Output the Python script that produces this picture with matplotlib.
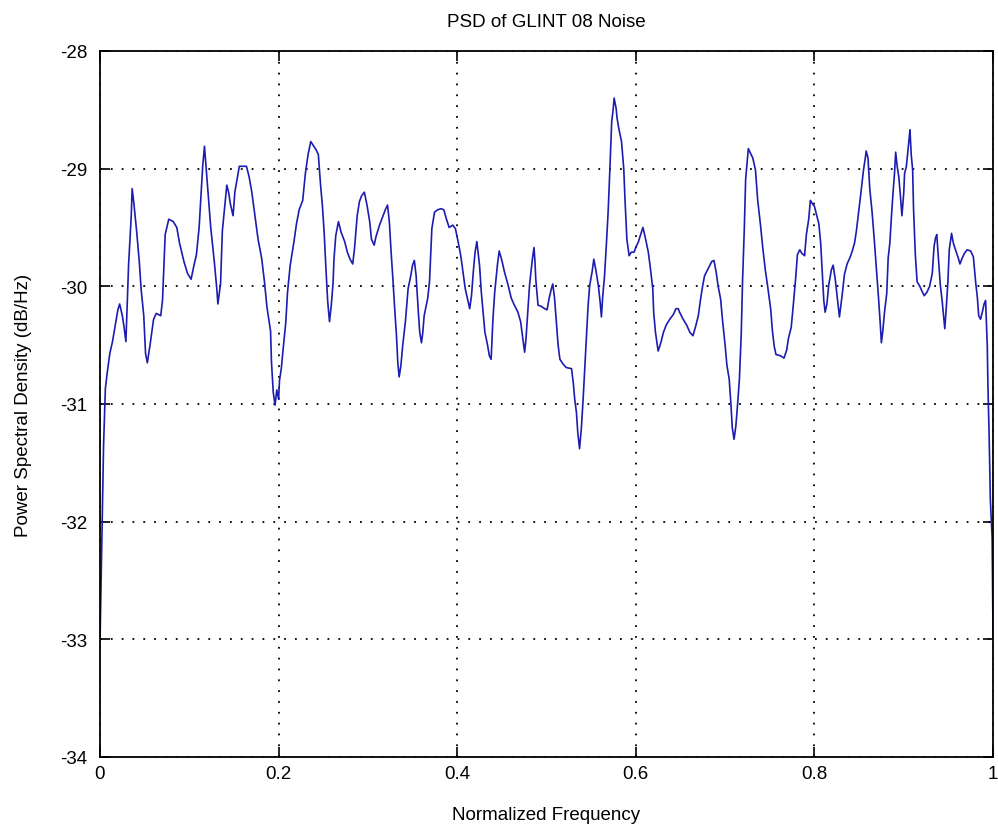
import matplotlib
matplotlib.use("Agg")
import matplotlib.pyplot as plt

freq = [
    0.000, 0.002, 0.004, 0.006, 0.008, 0.011, 0.014, 0.016, 0.020, 0.022,
    0.025, 0.027, 0.029, 0.030, 0.032, 0.035, 0.036, 0.038, 0.041, 0.044,
    0.046, 0.049, 0.051, 0.053, 0.056, 0.060, 0.063, 0.068, 0.070, 0.073,
    0.077, 0.082, 0.086, 0.089, 0.094, 0.098, 0.102, 0.105, 0.108, 0.111,
    0.113, 0.115, 0.117, 0.118, 0.120, 0.124, 0.128, 0.131, 0.132, 0.135,
    0.137, 0.140, 0.142, 0.144, 0.146, 0.149, 0.151, 0.154, 0.156, 0.164,
    0.167, 0.170, 0.173, 0.177, 0.181, 0.184, 0.187, 0.191, 0.192, 0.194,
    0.196, 0.198, 0.200, 0.201, 0.203, 0.205, 0.208, 0.210, 0.213, 0.217,
    0.220, 0.223, 0.227, 0.230, 0.233, 0.236,
    0.242, 0.2445, 0.247, 0.249, 0.251, 0.253, 0.255, 0.257, 0.259, 0.261,
    0.262, 0.264, 0.267, 0.270, 0.274, 0.277, 0.280, 0.283, 0.285, 0.288,
    0.2905, 0.293, 0.296, 0.299, 0.302, 0.304, 0.307, 0.309, 0.313, 0.317,
    0.320, 0.322, 0.324, 0.326, 0.328, 0.330, 0.332, 0.3335, 0.335, 0.337,
    0.339, 0.342, 0.345, 0.348, 0.350, 0.352, 0.354, 0.356, 0.358, 0.360,
    0.3615, 0.363, 0.367, 0.369, 0.3716, 0.3746, 0.378, 0.382, 0.385, 0.388,
    0.391, 0.395, 0.398, 0.401, 0.404, 0.406, 0.409, 0.412, 0.414, 0.416,
    0.418, 0.420, 0.422, 0.425, 0.427, 0.429, 0.431, 0.434, 0.436, 0.438,
    0.440, 0.442, 0.445, 0.447, 0.450, 0.453, 0.457, 0.4605, 0.464, 0.468,
    0.471, 0.4736, 0.4755, 0.477, 0.479, 0.481, 0.484, 0.486,
    0.487, 0.488, 0.4905, 0.494, 0.498, 0.5006, 0.503, 0.5055, 0.507, 0.509,
    0.511, 0.513, 0.515, 0.5185, 0.522, 0.528, 0.530, 0.5316, 0.5335, 0.535,
    0.537, 0.539, 0.541, 0.543, 0.545, 0.5466, 0.5484, 0.551, 0.553, 0.555,
    0.558, 0.560, 0.5615, 0.563, 0.565, 0.567, 0.569, 0.571, 0.573, 0.5746,
    0.5757, 0.578, 0.579, 0.581, 0.584, 0.5865, 0.588, 0.590, 0.5925, 0.595,
    0.598, 0.600, 0.603, 0.605, 0.608, 0.611, 0.614, 0.6164, 0.619, 0.620,
    0.622, 0.625, 0.628, 0.631, 0.634, 0.638, 0.642, 0.645, 0.6475, 0.649,
    0.653, 0.657, 0.6605, 0.664, 0.667, 0.670, 0.6725, 0.675, 0.677, 0.681,
    0.685, 0.6875, 0.690, 0.692, 0.695, 0.697, 0.700, 0.702, 0.7046, 0.7065,
    0.708, 0.710, 0.712, 0.714, 0.716, 0.718, 0.7196, 0.7215, 0.723, 0.725,
    0.726,
    0.731, 0.734, 0.7365, 0.7395, 0.742, 0.745, 0.748, 0.751, 0.753, 0.755,
    0.757, 0.762, 0.766, 0.769, 0.771, 0.774, 0.776, 0.779, 0.781, 0.7836,
    0.786, 0.789, 0.791, 0.7936, 0.7955, 0.797, 0.800, 0.802, 0.805, 0.807,
    0.8086, 0.8105, 0.812, 0.814, 0.816, 0.819, 0.821, 0.8235, 0.826, 0.828,
    0.831, 0.8336, 0.8366, 0.8396, 0.842, 0.845, 0.847, 0.850, 0.852, 0.855,
    0.857, 0.858, 0.860, 0.862, 0.8646, 0.867, 0.8695, 0.872, 0.874, 0.875,
    0.8766, 0.8785, 0.881, 0.8826, 0.8845, 0.8863, 0.888, 0.8897, 0.891, 0.8927,
    0.8945, 0.8964, 0.898, 0.900, 0.901, 0.903, 0.9046, 0.906, 0.907, 0.9084,
    0.910, 0.911, 0.913, 0.915, 0.918, 0.921, 0.923, 0.926, 0.929, 0.932,
    0.934, 0.9356, 0.937, 0.9386, 0.941, 0.943, 0.945, 0.946, 0.9476, 0.9495,
    0.951, 0.9536, 0.9555, 0.958, 0.9607, 0.963, 0.9655, 0.968, 0.971, 0.975,
    0.978, 0.9805, 0.9824, 0.984, 0.986, 0.988, 0.990, 0.9917, 0.9936, 0.9943,
    0.9958, 0.997, 0.999, 1.000,
]

psd_db = [
    -33.03, -32.20, -31.35, -30.87, -30.74, -30.57, -30.47, -30.38, -30.20, -30.15,
    -30.25, -30.35, -30.47, -30.26, -29.82, -29.40, -29.17, -29.30, -29.53, -29.79,
    -30.02, -30.25, -30.57, -30.65, -30.50, -30.28, -30.23, -30.25, -30.12, -29.56,
    -29.43, -29.45, -29.50, -29.63, -29.79, -29.89, -29.94, -29.83, -29.73, -29.50,
    -29.24, -28.98, -28.81, -28.91, -29.10, -29.50, -29.79, -30.04, -30.15, -29.98,
    -29.53, -29.30, -29.14, -29.20, -29.30, -29.40, -29.20, -29.07, -28.98, -28.98,
    -29.07, -29.20, -29.37, -29.60, -29.76, -29.95, -30.18, -30.38, -30.64, -30.90,
    -31.01, -30.88, -30.96, -30.80, -30.70, -30.54, -30.31, -30.05, -29.82, -29.63,
    -29.47, -29.35, -29.27, -29.04, -28.88, -28.77,
    -28.84, -28.88, -29.14, -29.31, -29.54, -29.85, -30.13, -30.30, -30.16, -29.97,
    -29.77, -29.57, -29.45, -29.54, -29.62, -29.71, -29.77, -29.81, -29.68, -29.40,
    -29.28, -29.23, -29.20, -29.31, -29.45, -29.60, -29.65, -29.58, -29.48, -29.40,
    -29.34, -29.31, -29.45, -29.71, -29.94, -30.19, -30.42, -30.65, -30.77, -30.67,
    -30.50, -30.30, -30.02, -29.91, -29.82, -29.78, -29.91, -30.16, -30.39, -30.48,
    -30.39, -30.25, -30.10, -29.96, -29.51, -29.37, -29.35, -29.34, -29.35, -29.43,
    -29.50, -29.48, -29.51, -29.62, -29.74, -29.85, -30.02, -30.12, -30.19, -30.08,
    -29.88, -29.71, -29.62, -29.82, -30.05, -30.22, -30.39, -30.50, -30.59, -30.62,
    -30.28, -30.05, -29.82, -29.70, -29.78, -29.88, -29.99, -30.10, -30.16, -30.22,
    -30.30, -30.45, -30.56, -30.45, -30.22, -29.99, -29.78, -29.67,
    -29.78, -29.94, -30.16, -30.17, -30.19, -30.20, -30.10, -30.02, -29.98, -30.10,
    -30.30, -30.50, -30.62, -30.66, -30.69, -30.70, -30.82, -30.96, -31.07, -31.24,
    -31.38, -31.21, -30.96, -30.67, -30.39, -30.16, -29.99, -29.88, -29.77, -29.85,
    -29.99, -30.13, -30.26, -30.08, -29.91, -29.65, -29.37, -29.00, -28.60, -28.50,
    -28.40, -28.49, -28.57, -28.66, -28.77, -29.00, -29.28, -29.60, -29.74, -29.71,
    -29.71, -29.67, -29.62, -29.57, -29.50, -29.60, -29.71, -29.85, -30.02, -30.22,
    -30.39, -30.55, -30.48, -30.39, -30.33, -30.28, -30.24, -30.19, -30.19, -30.22,
    -30.28, -30.33, -30.39, -30.42, -30.34, -30.25, -30.11, -29.99, -29.91, -29.85,
    -29.79, -29.78, -29.88, -29.99, -30.11, -30.28, -30.50, -30.67, -30.79, -31.00,
    -31.20, -31.30, -31.19, -31.00, -30.79, -30.42, -29.94, -29.51, -29.09, -28.91,
    -28.83,
    -28.91, -29.01, -29.27, -29.47, -29.66, -29.86, -30.02, -30.19, -30.38, -30.51,
    -30.58, -30.59, -30.61, -30.54, -30.44, -30.35, -30.19, -29.93, -29.73, -29.69,
    -29.72, -29.74, -29.56, -29.43, -29.27, -29.29, -29.32, -29.38, -29.47, -29.63,
    -29.86, -30.12, -30.22, -30.15, -29.99, -29.86, -29.82, -29.95, -30.12, -30.26,
    -30.08, -29.90, -29.81, -29.76, -29.71, -29.63, -29.53, -29.34, -29.21, -29.01,
    -28.91, -28.85, -28.91, -29.17, -29.37, -29.60, -29.86, -30.12, -30.35, -30.48,
    -30.38, -30.22, -30.06, -29.76, -29.63, -29.40, -29.21, -29.04, -28.86, -28.98,
    -29.07, -29.24, -29.40, -29.21, -29.04, -28.98, -28.86, -28.75, -28.67, -28.88,
    -29.01, -29.34, -29.73, -29.96, -30.00, -30.05, -30.08, -30.05, -30.00, -29.89,
    -29.66, -29.59, -29.56, -29.73, -29.99, -30.12, -30.28, -30.36, -30.19, -29.96,
    -29.69, -29.55, -29.63, -29.69, -29.75, -29.81, -29.76, -29.72, -29.69, -29.70,
    -29.75, -29.96, -30.09, -30.25, -30.28, -30.22, -30.15, -30.12, -30.51, -30.84,
    -31.32, -31.81, -32.14, -32.95,
]

xticks = [0, 0.2, 0.4, 0.6, 0.8, 1]
xtick_labels = ["0", "0.2", "0.4", "0.6", "0.8", "1"]
yticks = [-34, -33, -32, -31, -30, -29, -28]
ytick_labels = ["-34", "-33", "-32", "-31", "-30", "-29", "-28"]

plt.rcParams['font.family'] = ['Liberation Sans', 'DejaVu Sans']

fig = plt.figure(figsize=(9.98, 8.37), dpi=100)
ax = fig.add_axes([0.1002, 0.0944, 0.8948, 0.8435])

ax.plot(freq, psd_db, color='#1c1cb0', linewidth=1.2)

ax.set_xlim(0, 1)
ax.set_ylim(-34, -28)
ax.set_xticks(xticks)
ax.set_xticklabels(xtick_labels)
ax.set_yticks(yticks)
ax.set_yticklabels(ytick_labels)

ax.grid(True, color='black', linestyle=(0, (1, 5)), linewidth=1.3)
ax.tick_params(axis='both', direction='in', length=7, width=1.2, labelsize=13.5,
               top=True, right=True)
ax.tick_params(axis='y', pad=9)
ax.tick_params(axis='x', pad=6)
for s in ax.spines.values():
    s.set_linewidth(1.3)

ax.set_title("PSD of GLINT 08 Noise", fontsize=13.5, pad=18)
ax.set_xlabel("Normalized Frequency", fontsize=13.5, labelpad=17)
ax.set_ylabel("Power Spectral Density (dB/Hz)", fontsize=13.5, labelpad=20)

fig.savefig("out.png", dpi=100, facecolor='white')
